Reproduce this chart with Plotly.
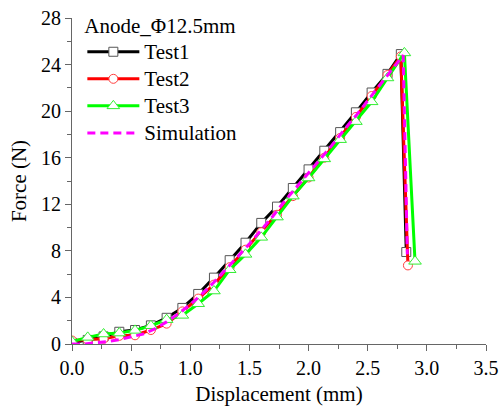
import plotly.graph_objects as go

# ---- data ----
test1_x = [0, 0.133, 0.267, 0.4, 0.533, 0.667, 0.8, 0.933, 1.067, 1.2, 1.333, 1.467, 1.6,
           1.733, 1.867, 2.0, 2.133, 2.267, 2.4, 2.533, 2.667, 2.78, 2.826]
test1_y = [0.1, 0.35, 0.65, 1.05, 1.2, 1.6, 2.25, 3.1, 4.3, 5.7, 7.2, 8.7, 10.4,
           11.8, 13.4, 15.0, 16.6, 18.2, 19.9, 21.6, 23.2, 24.9, 7.9]

test2_x = [0, 0.133, 0.267, 0.4, 0.533, 0.667, 0.8, 0.933, 1.067, 1.2, 1.333, 1.467, 1.6,
           1.733, 1.867, 2.0, 2.133, 2.267, 2.4, 2.533, 2.667, 2.78, 2.84]
test2_y = [0.3, 0.35, 0.45, 0.7, 0.75, 1.2, 1.75, 2.8, 3.9, 5.1, 6.6, 8.1, 9.6,
           11.1, 12.7, 14.3, 16.0, 17.7, 19.5, 21.3, 23.1, 24.7, 6.75]

test3_x = [0, 0.133, 0.267, 0.4, 0.533, 0.667, 0.8, 0.933, 1.067, 1.2, 1.333, 1.467, 1.6,
           1.733, 1.867, 2.0, 2.133, 2.267, 2.4, 2.533, 2.667, 2.81, 2.90]
test3_y = [0.2, 0.57, 0.86, 0.94, 1.17, 1.57, 2.09, 2.46, 3.46, 4.55, 6.38, 7.7, 9.16,
           10.9, 12.7, 14.26, 15.9, 17.55, 19.1, 20.8, 22.85, 25.0, 7.1]

sim_x = [0, 0.1, 0.2, 0.3, 0.4, 0.5, 0.6, 0.7, 0.8, 0.9, 1.0, 1.1, 1.2, 1.3, 1.4, 1.5,
         1.6, 1.7, 1.8, 1.9, 2.0, 2.1, 2.2, 2.3, 2.4, 2.5, 2.6, 2.7, 2.8, 2.835]
sim_y = [0, 0.0, 0.1, 0.2, 0.38, 0.6, 0.85, 1.3, 1.9, 2.6, 3.4, 4.3, 5.3, 6.4, 7.5, 8.6,
         9.8, 11.0, 12.3, 13.5, 14.7, 15.9, 17.1, 18.4, 19.6, 20.9, 22.2, 23.5, 24.8, 7.7]

x_ticks = [0.0, 0.5, 1.0, 1.5, 2.0, 2.5, 3.0, 3.5]
y_ticks = [0, 4, 8, 12, 16, 20, 24, 28]

FONT = "'Liberation Serif', 'Times New Roman', serif"


def lg(name):
    # legend text drawn at 21px while the legend row height follows legend.font.size
    return f"<span style='font-size:21px'>{name}</span>"


fig = go.Figure()
fig.add_trace(go.Scatter(
    x=test1_x, y=test1_y, name=lg("Test1"), mode="lines+markers",
    line=dict(color="black", width=3),
    marker=dict(symbol="square", size=9, color="white", line=dict(color="#555555", width=1))))
fig.add_trace(go.Scatter(
    x=test2_x, y=test2_y, name=lg("Test2"), mode="lines+markers",
    line=dict(color="#ff0000", width=3),
    marker=dict(symbol="circle", size=9, color="white", line=dict(color="#ff4040", width=1))))
fig.add_trace(go.Scatter(
    x=test3_x, y=test3_y, name=lg("Test3"), mode="lines+markers",
    line=dict(color="#00ff00", width=3),
    marker=dict(symbol="triangle-up", size=11, color="white", line=dict(color="#33ee33", width=1))))
fig.add_trace(go.Scatter(
    x=sim_x, y=sim_y, name=lg("Simulation"), mode="lines",
    line=dict(color="#ff00ff", width=3, dash="8px,5px")))

axis_common = dict(
    showgrid=False, zeroline=False, showline=True, linecolor="#666666", linewidth=1,
    ticks="outside", ticklen=6, tickcolor="#666666", tickwidth=1, automargin=False,
    tickfont=dict(family=FONT, size=20, color="black"),
)

fig.update_layout(
    width=501, height=409,
    margin=dict(l=72, r=15, t=18, b=65, autoexpand=False),
    paper_bgcolor="white", plot_bgcolor="white",
    font=dict(family=FONT, size=21, color="black"),
    xaxis=dict(range=[0, 3.5], tickvals=x_ticks, ticktext=[f"{v:.1f}" for v in x_ticks],
               minor=dict(dtick=0.25, ticks="outside", ticklen=4, tickcolor="#666666"),
               title=dict(text="Displacement (mm)", font=dict(family=FONT, size=21), standoff=8),
               **axis_common),
    yaxis=dict(range=[0, 28], tickvals=y_ticks,
               minor=dict(dtick=2, ticks="outside", ticklen=4, tickcolor="#666666"),
               title=dict(text="Force (N)", font=dict(family=FONT, size=21), standoff=8),
               **axis_common),
    legend=dict(
        x=0.025, y=1.037, xanchor="left", yanchor="top",
        bgcolor="rgba(0,0,0,0)", borderwidth=0,
        font=dict(family=FONT, size=18.5, color="black"),
        title=dict(text="Anode_\u03a612.5mm", font=dict(family=FONT, size=21, color="black"), side="top"),
        itemwidth=52,
    ),
    showlegend=True,
)

fig.write_html("out.html")
